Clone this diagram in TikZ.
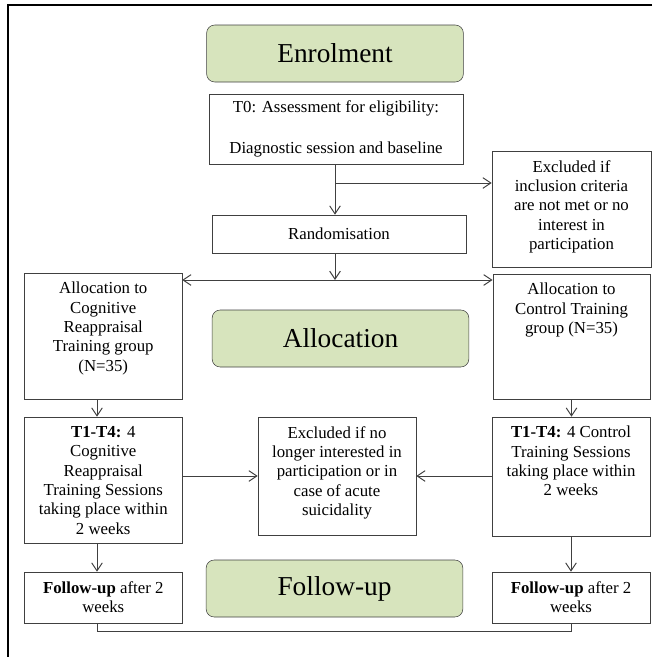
\documentclass[tikz,border=0pt]{standalone}
\usepackage{fontspec}
\setmainfont{Liberation Serif}
\usetikzlibrary{arrows.meta}

\definecolor{headgreen}{RGB}{215,228,189}
\definecolor{linegray}{RGB}{64,64,64}
\newcommand{\bodyfont}{\fontsize{12.6}{14.5}\selectfont}
\newcommand{\headfont}{\fontsize{20.5}{24}\selectfont}

\tikzset{
  stage/.style={draw=linegray, fill=headgreen, rounded corners=6pt,
    minimum width=192.5pt, minimum height=42.75pt, font=\headfont},
  box/.style={draw=linegray, minimum width=118pt, inner sep=0pt},
  boxtext/.style={anchor=north, align=center, font=\bodyfont, inner sep=0pt, yshift=-7pt},
  flow/.style={draw=linegray, line width=0.75pt},
}

\begin{document}
\begin{tikzpicture}[x=0.75pt, y=-0.75pt, >={Straight Barb[length=6pt,width=8pt]}]
        \useasboundingbox (0,0) rectangle (662,657);

        % Frame round the chart
        \draw[line width=1.5pt] (652,5) -- (8,5) -- (8,657);

        % Enrolment
        \node[stage] (enrol) at (335,53.5) {Enrolment};
        \node[box, minimum width=190.5pt, minimum height=52.5pt, font=\bodyfont, align=center] (t0) at (336,129)
            {T0: Assessment for eligibility:\\[16.25pt]Diagnostic session and baseline};
        \node[box, minimum width=119.25pt, minimum height=87pt,
            label={[boxtext]north:{Excluded if\\inclusion criteria\\are not met or no\\interest in\\participation}}] (excl1) at (571.5,209) {};
        \node[box, minimum width=190.5pt, minimum height=28.5pt, font=\bodyfont] (rand) at (339,234) {Randomisation};

        % Allocation
        \node[box, minimum height=94.5pt,
            label={[boxtext]north:{Allocation to\\Cognitive\\Reappraisal\\Training group\\(N=35)}}] (alloc1) at (103.25,336) {};
        \node[stage] (allocg) at (340.5,338.5) {Allocation};
        \node[box, minimum height=94pt,
            label={[boxtext]north:{Allocation to\\Control Training\\group (N=35)}}] (alloc2) at (571.5,336.5) {};

        % Training sessions
        \node[box, minimum height=94.5pt,
            label={[boxtext]north:{\textbf{T1-T4:} 4\\Cognitive\\Reappraisal\\Training Sessions\\taking place within\\2 weeks}}] (t1l) at (103.25,480) {};
        \node[box, minimum width=118.5pt, minimum height=88.5pt,
            label={[boxtext]north:{Excluded if no\\longer interested in\\participation or in\\case of acute\\suicidality}}] (excl2) at (337,476) {};
        \node[box, minimum width=118.5pt, minimum height=89.25pt,
            label={[boxtext]north:{\textbf{T1-T4:} 4 Control\\Training Sessions\\taking place within\\2 weeks}}] (t1r) at (571,476.5) {};

        % Follow-up
        \node[box, minimum height=38.25pt,
            label={[boxtext]north:{\textbf{Follow-up} after 2\\weeks}}] (ful) at (103.25,597.5) {};
        \node[stage] (fug) at (334.5,588.5) {Follow-up};
        \node[box, minimum width=118.5pt, minimum height=38.25pt,
            label={[boxtext]north:{\textbf{Follow-up} after 2\\weeks}}] (fur) at (571,597.5) {};

        % Branch points
        \coordinate (fork) at (335,183);
        \coordinate (split) at (335,280);
        \coordinate (lcol) at (97,0);
        \coordinate (floor) at (0,631);

        % Connectors
        \draw[flow, ->] (t0.south -| fork) -- (rand.north -| fork);
        \draw[flow, ->] (fork) -- (fork -| excl1.west);
        \draw[flow, ->] (rand.south -| split) -- (split);
        \draw[flow, <->] (split -| alloc1.east) -- (split -| alloc2.west);
        \draw[flow, ->] (alloc1.south -| lcol) -- (t1l.north -| lcol);
        \draw[flow, ->] (alloc2.south) -- (alloc2.south |- t1r.north);
        \draw[flow, ->] (t1l.east |- excl2) -- (excl2.west);
        \draw[flow, ->] (t1r.west |- excl2) -- (excl2.east);
        \draw[flow, ->] (t1l.south -| lcol) -- (ful.north -| lcol);
        \draw[flow, ->] (t1r.south) -- (t1r.south |- fur.north);
        \draw[flow] (ful.south -| lcol) -- (lcol |- floor) -- (floor -| fur.south) -- (fur.south);

    \end{tikzpicture}
\end{document}
